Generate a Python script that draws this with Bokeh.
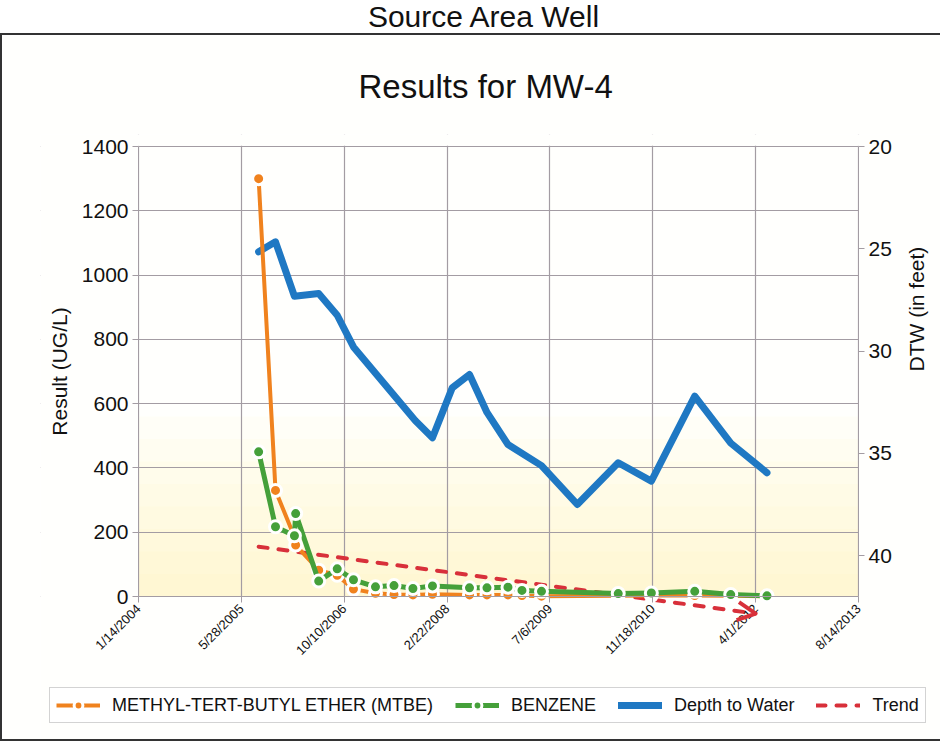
import math
import pandas as pd
from bokeh.plotting import figure
from bokeh.models import (Range1d, LinearAxis, FixedTicker, Legend, LegendItem,
                          BoxAnnotation, Arrow, OpenHead, Div)
from bokeh.layouts import column
from bokeh.embed import file_html
from bokeh.resources import INLINE

FONT = "Liberation Sans"

# ---------------- data ----------------
x_tick_labels = ["1/14/2004", "5/28/2005", "10/10/2006", "2/22/2008", "7/6/2009",
                 "11/18/2010", "4/1/2012", "8/14/2013"]
left_ticks = [0, 200, 400, 600, 800, 1000, 1200, 1400]
right_ticks = [20, 25, 30, 35, 40]

sample_dates = ["2005-08-20", "2005-11-10", "2006-02-10", "2006-02-16", "2006-06-08",
                "2006-09-06", "2006-11-24", "2007-03-11", "2007-06-09", "2007-09-09",
                "2007-12-13", "2008-06-10", "2008-09-03", "2008-12-14", "2009-02-20",
                "2009-05-26", "2010-06-03", "2010-11-11", "2011-06-10", "2011-12-02",
                "2012-05-26"]
mtbe = [1300, 330, 185, 160, 82, 66, 23, 10, 6, 5, 7, 5, 5, 5, 3, 1, 2, 3, 3, 2, 1]
benzene = [450, 217, 189, 258, 48, 86, 52, 30, 34, 25, 33, 27, 27, 29, 19, 16, 9, 11, 16, 6, 2]

dtw_dates = ["2005-08-20", "2005-11-10", "2006-02-10", "2006-06-08", "2006-09-06",
             "2006-11-24", "2007-09-20", "2007-12-13", "2008-03-18", "2008-06-10",
             "2008-09-03", "2008-12-14", "2009-05-26", "2009-11-16", "2010-06-03",
             "2010-11-11", "2011-06-10", "2011-12-02", "2012-05-26"]
dtw = [25.15, 24.66, 27.32, 27.19, 28.25, 29.8, 33.4, 34.24, 31.8, 31.15, 33.0, 34.57,
       35.6, 37.5, 35.46, 36.36, 32.2, 34.5, 35.95]

trend_dates = ["2005-08-20", "2012-04-01"]
trend_vals = [155, -53]

labels = ["METHYL-TERT-BUTYL ETHER (MTBE)", "BENZENE", "Depth to Water", "Trend"]

ORANGE = "#f0821e"
GREEN = "#45a03a"
BLUE = "#1f78c3"
RED = "#d8303a"
GRID = "#a39ca3"
PAPER = "#fffffd"
FRAME = "2px solid #333333"

LEFT_MIN, LEFT_MAX = 0, 1400
RIGHT_TOP, RIGHT_AT_ZERO = 20, 42

# ---------------- layout geometry (pixels) ----------------
FIG_W, FIG_H = 940, 708
BORDER_L, BORDER_T = 38, 99           # the frame covers everything below the title
TOP_GAP = 12                          # frame room above the 1400 line for its label
AX_L, AX_R = 136, 856                 # canvas x of the left / right axis lines
PLOT_PX = 450                         # canvas height of the 0..1400 span


def to_ms(lst, fmt=None):
    idx = pd.to_datetime(lst, format=fmt)
    return [int(v) for v in (idx - pd.Timestamp("1970-01-01")) // pd.Timedelta(milliseconds=1)]


tick_ms = to_ms(x_tick_labels, "%m/%d/%Y")
s_ms = to_ms(sample_dates)
d_ms = to_ms(dtw_dates)
t_ms = to_ms(trend_dates)

ms_per_px = (tick_ms[-1] - tick_ms[0]) / (AX_R - AX_L)
x_start = tick_ms[0] - (AX_L - BORDER_L) * ms_per_px
x_end = tick_ms[-1] + (FIG_W - AX_R) * ms_per_px
units_per_px = (LEFT_MAX - LEFT_MIN) / PLOT_PX
y_end = LEFT_MAX + TOP_GAP * units_per_px
y_start = LEFT_MAX - (FIG_H - BORDER_T - TOP_GAP) * units_per_px
r_per_l = (RIGHT_AT_ZERO - RIGHT_TOP) / (LEFT_MAX - LEFT_MIN)
right_bottom = RIGHT_AT_ZERO + (LEFT_MIN - y_start) * r_per_l
right_top = RIGHT_TOP - (y_end - LEFT_MAX) * r_per_l

# ---------------- figure ----------------
p = figure(width=FIG_W, height=FIG_H, x_range=Range1d(x_start, x_end),
           y_range=Range1d(y_start, y_end), output_backend="svg",
           toolbar_location=None, min_border_left=BORDER_L, min_border_right=0,
           min_border_top=BORDER_T, min_border_bottom=0)
p.extra_y_ranges = {"dtw": Range1d(start=right_bottom, end=right_top)}
p.background_fill_color = PAPER
p.border_fill_color = PAPER
p.outline_line_color = None

p.title.text = "Results for MW-4"
p.title.text_font = FONT
p.title.text_font_size = "33px"
p.title.text_font_style = "normal"
p.title.align = "left"
p.title.offset = 318
p.title.standoff = 60
p.title.text_color = "#111111"

# plain paper outside the plotting rectangle (hides the grid lines there)
for kw in [dict(top=LEFT_MIN), dict(bottom=LEFT_MAX + 0.7 * units_per_px),
           dict(right=tick_ms[0]), dict(left=tick_ms[-1])]:
    p.add_layout(BoxAnnotation(fill_color=PAPER, fill_alpha=1, line_color=None,
                               level="underlay", **kw))
# yellow fade near the bottom of the plotting rectangle
for k in range(1, 9):
    p.add_layout(BoxAnnotation(bottom=LEFT_MIN, top=70 * k, left=tick_ms[0],
                               right=tick_ms[-1], fill_color="#f6ec8c",
                               fill_alpha=0.05, line_color=None, level="image"))

xt = FixedTicker(ticks=tick_ms)
p.xaxis.ticker = xt
p.xgrid.ticker = xt
p.xaxis.fixed_location = LEFT_MIN
p.xaxis.bounds = (tick_ms[0], tick_ms[-1])
p.xaxis.major_label_overrides = {ms: lab for ms, lab in zip(tick_ms, x_tick_labels)}
p.xaxis.major_label_orientation = math.pi / 4
p.xaxis.major_label_text_font_size = "13px"

yt = FixedTicker(ticks=left_ticks)
p.yaxis.ticker = yt
p.ygrid.ticker = yt
p.yaxis.fixed_location = tick_ms[0]
p.yaxis.bounds = (LEFT_MIN, LEFT_MAX)
p.yaxis.axis_label = "Result (UG/L)"

raxis = LinearAxis(y_range_name="dtw", ticker=FixedTicker(ticks=right_ticks),
                   axis_label="DTW (in feet)", bounds=(RIGHT_TOP, RIGHT_AT_ZERO),
                   fixed_location=tick_ms[-1])
p.add_layout(raxis, "right")

for ax in [p.xaxis[0], p.yaxis[0], raxis]:
    ax.axis_line_color = GRID
    ax.major_tick_line_color = GRID
    ax.major_tick_out = 6
    ax.major_tick_in = 0
    ax.minor_tick_line_color = None
    ax.major_label_text_font = FONT
    ax.major_label_text_color = "#111111"
    ax.axis_label_text_font = FONT
    ax.axis_label_text_font_style = "normal"
    ax.axis_label_text_font_size = "21px"
    ax.axis_label_text_color = "#111111"
    ax.major_label_standoff = 4
p.yaxis.major_label_text_font_size = "21px"
raxis.major_label_text_font_size = "21px"
p.yaxis.axis_label_standoff = 8
raxis.axis_label_standoff = 22
raxis.axis_label_orientation = math.pi / 2

p.xgrid.grid_line_color = GRID
p.ygrid.grid_line_color = GRID
p.xgrid.grid_line_width = 1.2
p.ygrid.grid_line_width = 1.2

# ---------------- series ----------------
b_line = p.line(d_ms, dtw, y_range_name="dtw", line_width=7, color=BLUE,
                line_join="round", line_cap="round")
r_line = p.line(t_ms, trend_vals, line_width=4, color=RED, line_dash="9 11",
                line_cap="round")
p.add_layout(Arrow(end=OpenHead(size=18, line_color=RED, line_width=4),
                   x_start=t_ms[0], y_start=trend_vals[0], x_end=t_ms[-1],
                   y_end=trend_vals[-1], line_alpha=0))
o_line = p.line(s_ms, mtbe, line_width=4, color=ORANGE, line_join="round")
o_pts = p.scatter(s_ms, mtbe, size=12, fill_color=ORANGE, line_color="white",
                  line_width=3)
g_line = p.line(s_ms, benzene, line_width=5, color=GREEN, line_join="round")
g_pts = p.scatter(s_ms, benzene, size=12, fill_color=GREEN, line_color="white",
                  line_width=3)

legend = Legend(items=[LegendItem(label=labels[0], renderers=[o_line, o_pts]),
                       LegendItem(label=labels[1], renderers=[g_line, g_pts]),
                       LegendItem(label=labels[2], renderers=[b_line]),
                       LegendItem(label=labels[3], renderers=[r_line])],
                orientation="horizontal", location=(9, 20), margin=0)
legend.label_text_font = FONT
legend.label_text_font_size = "18px"
legend.label_text_color = "#111111"
legend.glyph_width = 44
legend.glyph_height = 22
legend.label_standoff = 12
legend.spacing = 22
legend.padding = 6
legend.border_line_color = "#a8a8a8"
legend.border_line_width = 1.5
legend.background_fill_color = "white"
legend.background_fill_alpha = 1
p.add_layout(legend)

p.styles = {"border-top": FRAME, "border-left": FRAME, "border-bottom": FRAME}

head = Div(text='<div style="width:913px;margin-left:22px;text-align:center;'
                'font-family:\'Liberation Sans\';font-size:30px;line-height:24px;'
                'color:#111;">Source Area Well</div>', width=935, height=23)

page = column(head, p, spacing=0)
open("out.html", "w").write(file_html(page, INLINE))
